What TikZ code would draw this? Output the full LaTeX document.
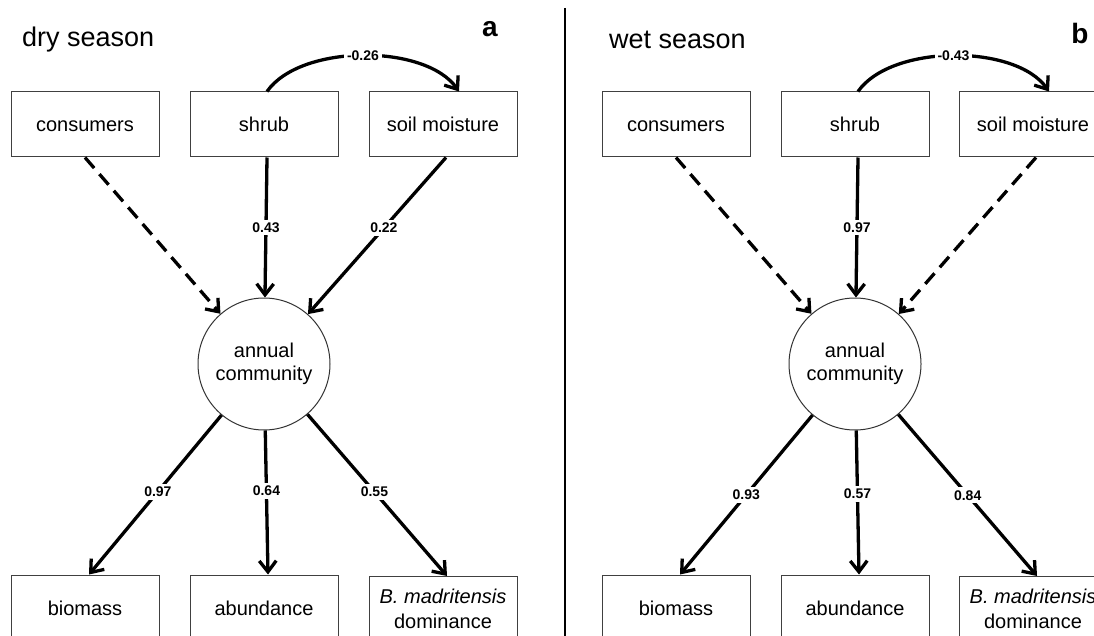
\documentclass[tikz,border=0pt]{standalone}
\usepackage{fontspec}
\setmainfont{Liberation Sans}
\usetikzlibrary{arrows.meta}
\begin{document}
\begin{tikzpicture}[x=1pt,y=-1pt,
  box/.style={draw=black!75, line width=1pt, minimum width=148pt, minimum height=65pt, inner sep=0pt, font=\fontsize{20}{25}\selectfont, align=center},
  boxs/.style={box, text height=15pt, text depth=0pt},
  circ/.style={circle, draw=black!80, line width=1pt, minimum size=132pt, inner sep=0pt, font=\fontsize{20}{23}\selectfont, align=center},
  arr/.style={line width=3.3pt, -{Straight Barb[length=11pt,width=17pt]}},
  dsh/.style={arr, dash pattern=on 14pt off 8pt},
  lbl/.style={fill=white, inner sep=3pt, font=\fontsize{14}{15}\selectfont\bfseries},
  title/.style={font=\fontsize{27}{30}\selectfont, anchor=base west, inner sep=0pt},
  letter/.style={font=\fontsize{28}{30}\selectfont\bfseries, anchor=base, inner sep=0pt}
]
\useasboundingbox (0,0) rectangle (1094,636);
\clip (0,0) rectangle (1094,636);
\fill[white] (0,0) rectangle (1094,636);

% divider
\coordinate (dtop) at (565,8);
\coordinate (dbot) at (565,640);
\draw[line width=2.2pt] (dtop) -- (dbot);

% ---------- panel a ----------
\node[title] (t1) at (22,47) {dry season};
\node[letter] (l1) at (490,37) {a};
\node[boxs] (c1) at (85,124.5) {consumers};
\node[boxs] (s1) at (264,124.5) {shrub};
\node[boxs] (m1) at (443,124.5) {soil moisture};
\node[circ] (a1) at (264,364) {annual\\community};
\node[boxs] (b1) at (85,607.5) {biomass};
\node[boxs] (n1) at (264,607.5) {abundance};
\node[box] (d1) at (443,609) {\itshape B. madritensis\\dominance};

\draw[arr] ([xshift=3pt]s1.north) to[out=55,in=125,looseness=0.78] node[lbl]{-0.26} ([xshift=16pt]m1.north);
\draw[dsh] (c1.south) -- (a1);
\draw[arr] ([xshift=3pt]s1.south) -- node[lbl,pos=0.5]{0.43} (a1);
\draw[arr] ([xshift=3pt]m1.south) -- node[lbl,pos=0.45]{0.22} (a1);
\draw[arr] (a1) -- node[lbl,pos=0.48]{0.97} ([xshift=4pt]b1.north);
\draw[arr] (a1) -- node[lbl,pos=0.42]{0.64} ([xshift=4pt]n1.north);
\draw[arr] (a1) -- node[lbl,pos=0.48]{0.55} ([xshift=4pt]d1.north);

% ---------- panel b ----------
\node[title] (t2) at (609,49) {wet season};
\node[letter] (l2) at (1080,44) {b};
\node[boxs] (c2) at (676,124.5) {consumers};
\node[boxs] (s2) at (855,124.5) {shrub};
\node[boxs] (m2) at (1033,124.5) {soil moisture};
\node[circ] (a2) at (855,364) {annual\\community};
\node[boxs] (b2) at (676,607.5) {biomass};
\node[boxs] (n2) at (855,607.5) {abundance};
\node[box] (d2) at (1033,609) {\itshape B. madritensis\\dominance};

\draw[arr] ([xshift=3pt]s2.north) to[out=55,in=125,looseness=0.78] node[lbl]{-0.43} ([xshift=16pt]m2.north);
\draw[dsh] (c2.south) -- (a2);
\draw[arr] ([xshift=3pt]s2.south) -- node[lbl,pos=0.5]{0.97} (a2);
\draw[dsh] ([xshift=3pt]m2.south) -- (a2);
\draw[arr] (a2) -- node[lbl,pos=0.5]{0.93} ([xshift=4pt]b2.north);
\draw[arr] (a2) -- node[lbl,pos=0.44]{0.57} ([xshift=4pt]n2.north);
\draw[arr] (a2) -- node[lbl,pos=0.5]{0.84} ([xshift=4pt]d2.north);
\end{tikzpicture}
\end{document}
